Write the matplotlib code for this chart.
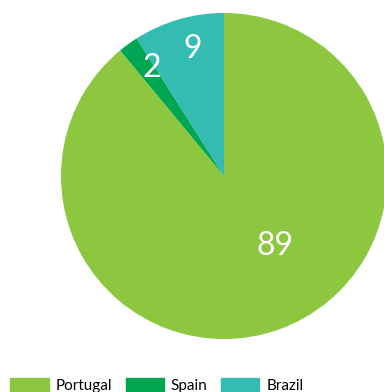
import matplotlib
matplotlib.use("Agg")
import matplotlib.pyplot as plt
import numpy as np

categories = ["Portugal", "Spain", "Brazil"]
values = [89, 2, 9]
colors = ["#8DC63F", "#00A651", "#35BCB2"]

plt.rcParams['font.family'] = ['Lato', 'DejaVu Sans']

fig = plt.figure(figsize=(3.84, 3.92), dpi=100)
ax = fig.add_axes([0.1589, 0.135, 0.849, 0.832])
wedges, _ = ax.pie(values, colors=colors, startangle=90, counterclock=False,
                   radius=1, wedgeprops=dict(linewidth=0))
for w in wedges:
    w.set_clip_on(False)
ax.set_xlim(-1, 1)
ax.set_ylim(-1, 1)
ax.set_aspect('equal')
ax.axis('off')

# label placement: (distance from center, fraction along wedge)
label_dist = [0.53, 0.8, 0.8]
label_frac = [0.45, 0.82, 0.57]
for w, v, d, f in zip(wedges, values, label_dist, label_frac):
    ang = np.deg2rad(w.theta2 - f * (w.theta2 - w.theta1))
    ax.text(d * np.cos(ang), d * np.sin(ang), str(v), color='white',
            fontsize=23, ha='center', va='center')

handles = [plt.Rectangle((0, 0), 1, 1, color=c) for c in colors]
fig.legend(handles, categories, loc='lower left', bbox_to_anchor=(0.027, -0.003),
           ncol=3, frameon=False, fontsize=11, handlelength=2.5, handleheight=1.0,
           handletextpad=0.45, columnspacing=0.9, borderaxespad=0, borderpad=0)

fig.savefig("out.png", dpi=100)
